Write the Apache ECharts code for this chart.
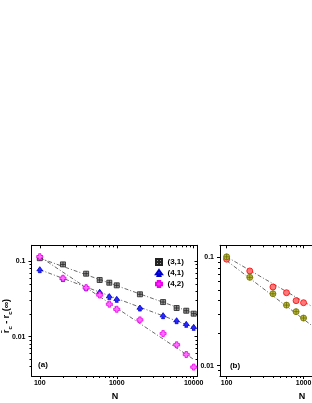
<!DOCTYPE html>
<html><head><meta charset="utf-8">
<script src="https://cdn.jsdelivr.net/npm/echarts@6/dist/echarts.min.js"></script>
<style>html,body{margin:0;padding:0;background:#fff}#c{width:312px;height:403px}</style>
</head><body><div id="c"></div>
<script>
// ---- data ----
const nA = [100, 200, 400, 600, 800, 1000, 2000, 4000, 6000, 8000, 10000];
const s31 = [0.110, 0.091, 0.0685, 0.0565, 0.052, 0.048, 0.0365, 0.0288, 0.024, 0.0221, 0.0202];
const s41 = [0.0774, 0.059, 0.0446, 0.0388, 0.034, 0.0313, 0.024, 0.019, 0.0163, 0.0146, 0.0133];
const s42 = [0.115, 0.0596, 0.0446, 0.0357, 0.027, 0.0231, 0.0167, 0.011, 0.0078, 0.0058, 0.00395];
const fit31 = [[100, 0.110], [10000, 0.0205]];
const fit41 = [[100, 0.0774], [10000, 0.0133]];
const fit42 = [[100, 0.115], [10000, 0.005]];

const nB = [100, 200, 400, 600, 800, 1000];
const bRed = [0.096, 0.0748, 0.0532, 0.0471, 0.0398, 0.0381];
const bOlive = [0.101, 0.0653, 0.0461, 0.0362, 0.0315, 0.0275];
const fitRed = [[100, 0.101], [10000, 0.0151]];
const fitOlive = [[100, 0.093], [10000, 0.00774]];

const xMajor = [100, 1000, 10000];
const xMinor = [200,300,400,500,600,700,800,900,2000,3000,4000,5000,6000,7000,8000,9000];
const yMajor = [0.01, 0.1];
const yMinor = [0.002,0.003,0.004,0.005,0.006,0.007,0.008,0.009,0.02,0.03,0.04,0.05,0.06,0.07,0.08,0.09,0.2];
const legendNames = ['(3,1)', '(4,1)', '(4,2)'];

// ---- layout ----
const grids = [
  {left: 31.5, top: 245.3, width: 166, height: 130.7},
  {left: 220, top: 245.3, width: 166, height: 130.7}
];
const xRanges = [[78, 11200], [82, 11800]];
const yRanges = [[0.00301, 0.163], [0.00803, 0.129]];

const fmt = v => String(+(+v).toPrecision(3));
const FONT = 'Liberation Sans, Arial, sans-serif';
const xAxes = [], yAxes = [];
function addAxes(list, gi, range, major, minor, isX) {
  const posOut = isX ? 'bottom' : 'left';
  const posIn = isX ? 'top' : 'right';
  const base = {type: 'log', logBase: 10, gridIndex: gi, min: range[0], max: range[1],
    splitLine: {show: false}, minorTick: {show: false}, axisPointer: {show: false}};
  const idx = list.length;
  list.push(Object.assign({}, base, {position: posOut,
    axisLine: {show: true, lineStyle: {color: '#000', width: 1}},
    axisTick: {show: true, inside: false, length: 3, customValues: major, lineStyle: {color: '#000', width: 1}},
    axisLabel: {show: true, customValues: major, formatter: fmt, fontSize: 7, fontWeight: 'bold',
      color: '#000', fontFamily: FONT, margin: isX ? 4 : 6}}));
  list.push(Object.assign({}, base, {position: posOut, axisLine: {show: false},
    axisTick: {show: true, inside: false, length: 2, customValues: minor, lineStyle: {color: '#000', width: 1}},
    axisLabel: {show: false}}));
  list.push(Object.assign({}, base, {position: posIn,
    axisLine: {show: true, lineStyle: {color: '#000', width: 1}},
    axisTick: {show: true, inside: true, length: 3, customValues: major, lineStyle: {color: '#000', width: 1}},
    axisLabel: {show: false}}));
  list.push(Object.assign({}, base, {position: posIn, axisLine: {show: false},
    axisTick: {show: true, inside: true, length: 2, customValues: minor, lineStyle: {color: '#000', width: 1}},
    axisLabel: {show: false}}));
  return idx;
}
const xa = addAxes(xAxes, 0, xRanges[0], xMajor, xMinor, true);
const xb = addAxes(xAxes, 1, xRanges[1], xMajor, xMinor, true);
const ya = addAxes(yAxes, 0, yRanges[0], yMajor, yMinor, false);
const yb = addAxes(yAxes, 1, yRanges[1], yMajor, yMinor, false);

const SYM_SQ = 'path://M0,0H10V10H0Z M5,0V10 M0,5H10';
const SYM_CLUB = 'path://M5,0L10,7L6.5,7L7.5,10L2.5,10L3.5,7L0,7Z';
const SYM_PLUS = 'path://M3,0H7V3H10V7H7V10H3V7H0V3H3Z';
const SYM_CIRC = 'circle';
const SYM_CIRCX = 'path://M5,0A5,5,0,1,1,4.99,0Z M5,0V10 M0,5H10';

function pts(xs, ys) { return xs.map((x, i) => [x, ys[i]]); }
function scatter(name, xi, yi, xs, ys, sym, size, fill, border) {
  return {type: 'scatter', name, xAxisIndex: xi, yAxisIndex: yi, data: pts(xs, ys),
    symbol: sym, symbolSize: size, symbolKeepAspect: true,
    itemStyle: {color: fill, borderColor: border, borderWidth: 0.8, opacity: 1}, z: 5};
}
function fitLine(xi, yi, d) {
  return {type: 'line', xAxisIndex: xi, yAxisIndex: yi, data: d, symbol: 'none', silent: true,
    lineStyle: {color: '#444', width: 0.8, type: [4, 2, 1, 2]}, z: 3};
}

const option = {
  animation: false,
  backgroundColor: '#fff',
  grid: grids.map(g => Object.assign({outerBoundsMode: 'none', containLabel: false}, g)),
  xAxis: xAxes,
  yAxis: yAxes,
  legend: {show: true, data: legendNames, orient: 'vertical', left: 155, top: 258,
    itemWidth: 7, itemHeight: 6, itemGap: 3, padding: 0,
    textStyle: {fontSize: 8, fontWeight: 'bold', color: '#000', fontFamily: FONT, padding: [0, 0, 0, 0]}},
  series: [
    fitLine(xa, ya, fit31), fitLine(xa, ya, fit41), fitLine(xa, ya, fit42),
    scatter('(3,1)', xa, ya, nA, s31, SYM_SQ, 5, '#9a9a9a', '#222'),
    scatter('(4,1)', xa, ya, nA, s41, SYM_CLUB, 6, '#2a2aff', '#0000cc'),
    scatter('(4,2)', xa, ya, nA, s42, SYM_PLUS, 6, '#ff70ff', '#ee00ee'),
    fitLine(xb, yb, fitRed), fitLine(xb, yb, fitOlive),
    scatter('red', xb, yb, nB, bRed, SYM_CIRC, 6, '#ff7a7a', '#ff0000'),
    scatter('olive', xb, yb, nB, bOlive, SYM_CIRCX, 6, '#b8b840', '#6f6f00')
  ],
  graphic: [
    {type: 'text', x: 43, y: 365, style: {text: '(a)', fontSize: 8, fontWeight: 'bold', fill: '#000', fontFamily: FONT, align: 'center', verticalAlign: 'middle'}},
    {type: 'text', x: 235, y: 365.5, style: {text: '(b)', fontSize: 8, fontWeight: 'bold', fill: '#000', fontFamily: FONT, align: 'center', verticalAlign: 'middle'}},
    {type: 'text', x: 115, y: 397, style: {text: 'N', fontSize: 9, fontWeight: 'bold', fill: '#000', fontFamily: FONT, align: 'center', verticalAlign: 'middle'}},
    {type: 'text', x: 302, y: 397, style: {text: 'N', fontSize: 9, fontWeight: 'bold', fill: '#000', fontFamily: FONT, align: 'center', verticalAlign: 'middle'}},
    {type: 'text', x: 7, y: 316, rotation: Math.PI / 2,
      style: {text: '{r|r\u0304}{s|c}{r| - r}{s|c}{r|(\u221E)}', align: 'center', verticalAlign: 'middle',
        rich: {
          r: {fontSize: 9, fontWeight: 'bold', fill: '#000', fontFamily: FONT, lineHeight: 12},
          s: {fontSize: 6, fontWeight: 'bold', fill: '#000', fontFamily: FONT, lineHeight: 6, verticalAlign: 'bottom'}
        }}}
  ]
};
const chart = echarts.init(document.getElementById('c'), null, {renderer: 'canvas'});
chart.setOption(option);
</script></body></html>
